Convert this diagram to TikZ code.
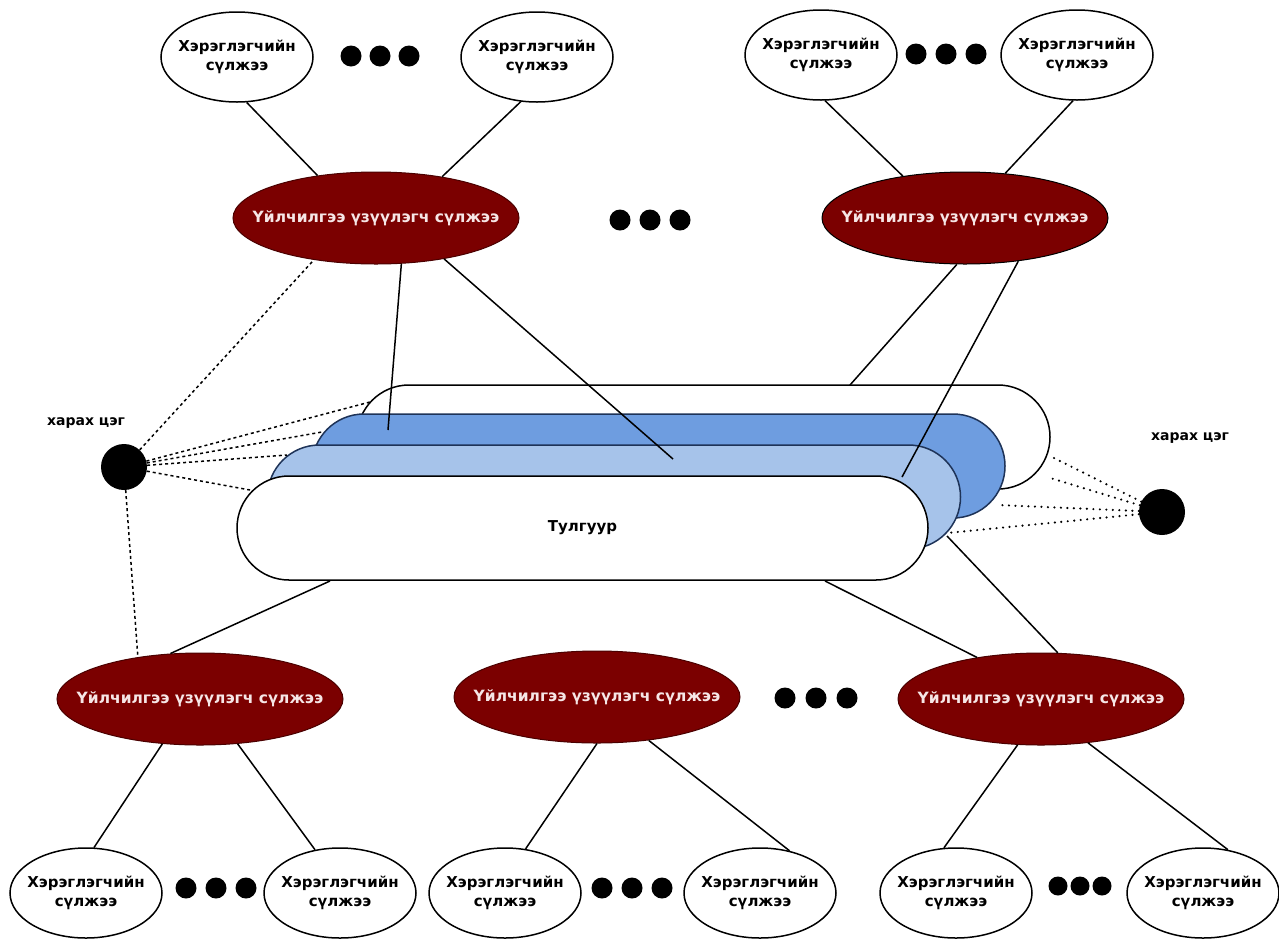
\documentclass[tikz,border=0pt]{standalone}
\usepackage{fontspec}
\setmainfont{DejaVu Sans}
\usetikzlibrary{shapes.geometric}
\definecolor{svcred}{HTML}{7B0000}
\definecolor{svcedge}{HTML}{4A0000}
\definecolor{svctext}{HTML}{F6E6E6}
\definecolor{bluedark}{HTML}{6E9DE0}
\definecolor{bluelight}{HTML}{A6C3EA}
\definecolor{navy}{HTML}{1E3358}
% zero-width text boxes, so the ellipses keep their set size
\newcommand{\usertext}{\makebox[0pt]{\begin{tabular}{@{}c@{}}Хэрэглэгчийн\\[0pt]сүлжээ\end{tabular}}}
\newcommand{\svctext}{\makebox[0pt]{Үйлчилгээ үзүүлэгч сүлжээ}}
\begin{document}
\begin{tikzpicture}[x=1pt,y=-1pt,
  user/.style={ellipse,draw=black,line width=1.5pt,fill=white,minimum width=152pt,minimum height=90pt,inner sep=0pt,font=\bfseries\fontsize{15}{19}\selectfont},
  svc/.style={ellipse,fill=svcred,draw=svcedge,line width=1pt,minimum width=286pt,minimum height=92pt,inner sep=0pt,text=svctext,font=\bfseries\fontsize{15.5}{18}\selectfont},
  dotmark/.style={circle,fill=black,inner sep=0pt,minimum size=21pt},
  view/.style={circle,fill=black,inner sep=0pt,minimum size=46pt},
  pill/.style={rectangle,rounded corners=52pt,minimum width=693pt,minimum height=104pt,line width=1.5pt,inner sep=0pt},
  link/.style={line width=1.5pt},
  sight/.style={line width=1.5pt,dash pattern=on 3pt off 3pt},
  sightdot/.style={line width=2.4pt,dash pattern=on 0pt off 6.5pt,line cap=round},
  lbl/.style={font=\bfseries\fontsize{14}{16}\selectfont}]
\useasboundingbox (0,0) rectangle (1279,938);

% platform stack, back to front
\node[pill,draw=black,fill=white] (P1) at (703.5,437) {};
\node[pill,draw=navy,fill=bluedark] (P2) at (658.5,466) {};
\node[pill,draw=navy,fill=bluelight] (P3) at (614,497) {};
\node[pill,draw=black,fill=white,minimum width=691pt,font=\bfseries\fontsize{15}{18}\selectfont] (P4) at (582.5,528) {Тулгуур};

% user networks, top row
\node[user] (TL1) at (237,57) {\usertext};
\node[user] (TL2) at (537,57) {\usertext};
\node[user] (TR1) at (821,55) {\usertext};
\node[user] (TR2) at (1077,55) {\usertext};
\node[dotmark] (d1) at (351,56) {};
\node[dotmark] (d2) at (380,56) {};
\node[dotmark] (d3) at (409,56) {};
\node[dotmark] (d4) at (916,54) {};
\node[dotmark] (d5) at (946,54) {};
\node[dotmark] (d6) at (976,54) {};

% service provider networks
\node[svc] (ST1) at (376,218) {\svctext};
\node[svc,draw=black] (ST2) at (965,218) {\svctext};
\node[dotmark] (d7) at (620,220) {};
\node[dotmark] (d8) at (650,220) {};
\node[dotmark] (d9) at (680,220) {};

\node[svc] (SB1) at (200,699) {\svctext};
\node[svc] (SB2) at (597,697) {\svctext};
\node[svc] (SB3) at (1041,699) {\svctext};
\node[dotmark] (d10) at (785,698) {};
\node[dotmark] (d11) at (816,698) {};
\node[dotmark] (d12) at (847,698) {};

% user networks, bottom row
\node[user] (B1) at (86,893) {\usertext};
\node[user] (B2) at (340,893) {\usertext};
\node[user] (B3) at (505,893) {\usertext};
\node[user] (B4) at (760,893) {\usertext};
\node[user] (B5) at (956,893) {\usertext};
\node[user] (B6) at (1203,893) {\usertext};
\node[dotmark] (d13) at (186,888) {};
\node[dotmark] (d14) at (216,888) {};
\node[dotmark] (d15) at (246,888) {};
\node[dotmark] (d16) at (602,888) {};
\node[dotmark] (d17) at (632,888) {};
\node[dotmark] (d18) at (662,888) {};
\node[dotmark,minimum size=19pt] (d19) at (1058,886) {};
\node[dotmark,minimum size=19pt] (d20) at (1080,886) {};
\node[dotmark,minimum size=19pt] (d21) at (1102,886) {};

% view points
\node[view] (V1) at (124,467) {};
\node[lbl] (V1t) at (86,423) {харах цэг};
\node[view] (V2) at (1162,512) {};
\node[lbl] (V2t) at (1190,438) {харах цэг};

% attachment points on the platform layers
\coordinate (e5) at (388,430);
\coordinate (e6) at (673,459);
\coordinate (e7) at (850,385);
\coordinate (e8) at (902,477);
\coordinate (b9) at (330,581);
\coordinate (b10) at (825,581);
\coordinate (b11) at (947,536);
\coordinate (l1) at (370,402);
\coordinate (l2) at (322,432);
\coordinate (l3) at (287,455);
\coordinate (l4) at (250,490);
\coordinate (r1) at (1052,457);
\coordinate (r2) at (1047,477);
\coordinate (r3) at (998,505);
\coordinate (r4) at (947,533);

% connections
\draw[link] (TL1.-78) -- (ST1.144);
\draw[link] (TL2.-110) -- (ST1.32);
\draw[link] (TR1.-85) -- (ST2.146);
\draw[link] (TR2.-95) -- (ST2.48);
\draw[link] (ST1.-61) -- (e5);
\draw[link] (ST1.-31) -- (e6);
\draw[link] (ST2.-100) -- (e7);
\draw[link] (ST2.-39) -- (e8);
\draw[link] (b9) -- (SB1.123);
\draw[link] (b10) -- (SB3.147);
\draw[link] (b11) -- (SB3.70);
\draw[link] (SB1.-130) -- (B1.80);
\draw[link] (SB1.-50) -- (B2.120);
\draw[link] (SB2.-90) -- (B3.65);
\draw[link] (SB2.-40) -- (B4.55);
\draw[link] (SB3.-117) -- (B5.105);
\draw[link] (SB3.-43) -- (B6.60);

% lines of sight
\draw[sight] (V1) -- (ST1.-146);
\draw[sight] (V1) -- (l1);
\draw[sight] (V1) -- (l2);
\draw[sight] (V1) -- (l3);
\draw[sight] (V1) -- (l4);
\draw[sight] (V1) -- (SB1.146);
\draw[sightdot] (V2) -- (r1);
\draw[sightdot] (V2) -- (r2);
\draw[sightdot] (V2) -- (r3);
\draw[sightdot] (V2) -- (r4);
\end{tikzpicture}
\end{document}
